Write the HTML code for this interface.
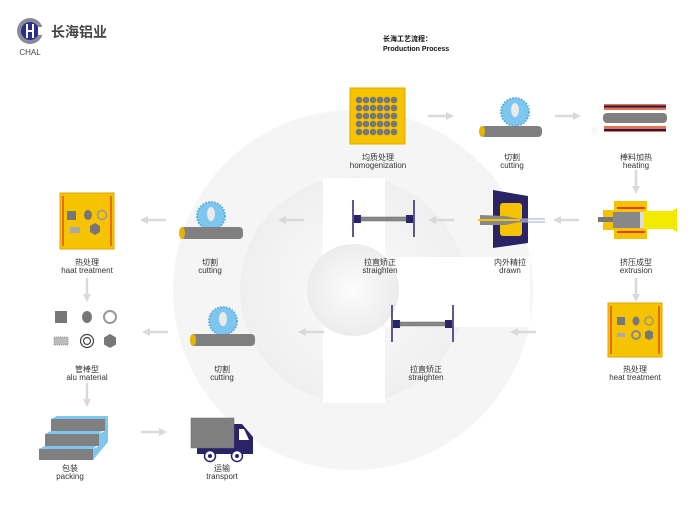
<!DOCTYPE html>
<html><head><meta charset="utf-8"><style>
html,body{margin:0;padding:0;background:#fff;width:700px;height:508px;overflow:hidden}
svg{display:block}
text{font-family:"Liberation Sans","Noto Sans CJK SC",sans-serif;fill:#333;font-size:8px;text-anchor:middle}
</style></head><body>
<svg width="700" height="508" viewBox="0 0 700 508" xmlns="http://www.w3.org/2000/svg">
<defs>
<radialGradient id="mg" cx="0.5" cy="0.5" r="0.5"><stop offset="0" stop-color="#fbfbfb"/><stop offset="1" stop-color="#efefef"/></radialGradient>
<radialGradient id="ig" cx="0.5" cy="0.5" r="0.5"><stop offset="0" stop-color="#fcfcfc"/><stop offset="1" stop-color="#ececec"/></radialGradient>
<g id="arrL"><line x1="0" y1="0" x2="20" y2="0" stroke="#d9d9d9" stroke-width="2.5"/><polygon points="-6,0 2,-4 2,4" fill="#d9d9d9"/></g>
<g id="arrR"><line x1="0" y1="0" x2="20" y2="0" stroke="#d9d9d9" stroke-width="2.5"/><polygon points="26,0 18,-4 18,4" fill="#d9d9d9"/></g>
<g id="arrD"><line x1="0" y1="0" x2="0" y2="18" stroke="#d9d9d9" stroke-width="2.5"/><polygon points="0,24 -4,16 4,16" fill="#d9d9d9"/></g>
<g id="saw">
<circle cx="0" cy="0" r="14" fill="#7cc6f0" stroke="#5aa9d8" stroke-width="2" stroke-dasharray="1.5 1.5"/>
<ellipse cx="0" cy="-2" rx="4" ry="7" fill="#eaeaea"/>
</g>
<g id="str">
<line x1="0" y1="0" x2="0" y2="37" stroke="#2a2366" stroke-width="1.5"/>
<line x1="61" y1="0" x2="61" y2="37" stroke="#2a2366" stroke-width="1.5"/>
<rect x="1" y="15" width="7" height="8" fill="#2a2366"/><rect x="53" y="15" width="7" height="8" fill="#2a2366"/>
<rect x="8" y="17" width="45" height="4" fill="#888" stroke="#666" stroke-width="0.5"/>
</g>
</defs>
<!-- watermark -->
<circle cx="353" cy="290" r="180" fill="#f5f5f5"/>
<rect x="470" y="257" width="60" height="70" fill="#fff"/>
<circle cx="353" cy="290" r="113" fill="url(#mg)"/>
<rect x="323" y="178" width="62" height="79" fill="#fff"/>
<rect x="323" y="327" width="62" height="76" fill="#fff"/>
<rect x="385" y="257" width="130" height="70" fill="#fff"/>
<circle cx="353" cy="290" r="46" fill="url(#ig)"/>
<!-- logo -->
<circle cx="30" cy="31" r="13" fill="#8a8a99"/>
<circle cx="30" cy="31" r="9" fill="#2a2f8a"/>
<rect x="26" y="24" width="2" height="14" fill="#fff"/><rect x="32" y="24" width="2" height="14" fill="#fff"/><rect x="26" y="30" width="8" height="2" fill="#fff"/>
<rect x="38" y="27" width="6" height="8" fill="#fff"/>
<text x="79" y="37" style="font-size:14px;font-weight:bold;fill:#444">长海铝业</text>
<text x="30" y="55" style="font-size:8px;fill:#444">CHAL</text>
<text x="383" y="41" style="font-size:7px;font-weight:bold;text-anchor:start;fill:#111">长海工艺流程：</text>
<text x="383" y="51" style="font-size:7px;font-weight:bold;text-anchor:start;fill:#111">Production Process</text>
<!-- homogenization -->
<rect x="350" y="88" width="55" height="56" fill="#f6c300" stroke="#d9a800"/>
<g fill="#777">
<circle cx="359" cy="100" r="3.3"/><circle cx="366" cy="100" r="3.3"/><circle cx="373" cy="100" r="3.3"/><circle cx="380" cy="100" r="3.3"/><circle cx="387" cy="100" r="3.3"/><circle cx="394" cy="100" r="3.3"/>
<circle cx="359" cy="108" r="3.3"/><circle cx="366" cy="108" r="3.3"/><circle cx="373" cy="108" r="3.3"/><circle cx="380" cy="108" r="3.3"/><circle cx="387" cy="108" r="3.3"/><circle cx="394" cy="108" r="3.3"/>
<circle cx="359" cy="116" r="3.3"/><circle cx="366" cy="116" r="3.3"/><circle cx="373" cy="116" r="3.3"/><circle cx="380" cy="116" r="3.3"/><circle cx="387" cy="116" r="3.3"/><circle cx="394" cy="116" r="3.3"/>
<circle cx="359" cy="124" r="3.3"/><circle cx="366" cy="124" r="3.3"/><circle cx="373" cy="124" r="3.3"/><circle cx="380" cy="124" r="3.3"/><circle cx="387" cy="124" r="3.3"/><circle cx="394" cy="124" r="3.3"/>
<circle cx="359" cy="132" r="3.3"/><circle cx="366" cy="132" r="3.3"/><circle cx="373" cy="132" r="3.3"/><circle cx="380" cy="132" r="3.3"/><circle cx="387" cy="132" r="3.3"/><circle cx="394" cy="132" r="3.3"/>
</g>
<text x="378" y="160">均质处理</text><text x="378" y="168">homogenization</text>
<use href="#arrR" x="428" y="116"/>
<!-- cutting 1 -->
<use href="#saw" x="515" y="112"/>
<rect x="481" y="126" width="61" height="11" rx="4" fill="#808080"/>
<ellipse cx="482" cy="131.5" rx="3" ry="5.5" fill="#e8b400"/>
<text x="512" y="160">切割</text><text x="512" y="168">cutting</text>
<use href="#arrR" x="555" y="116"/>
<!-- heating -->
<rect x="604" y="104" width="62" height="6" fill="#e8734a"/><rect x="604" y="105.5" width="62" height="2" fill="#1e1a55"/>
<rect x="604" y="126" width="62" height="6" fill="#e8734a"/><rect x="604" y="129" width="62" height="2" fill="#1e1a55"/>
<rect x="603" y="113" width="64" height="10" rx="4" fill="#808080"/>
<text x="636" y="160">棒料加热</text><text x="636" y="168">heating</text>
<use href="#arrD" x="636" y="170"/>
<!-- row 2 -->
<rect x="60" y="193" width="54" height="56" fill="#f6c300" stroke="#d9a800"/>
<line x1="63" y1="196" x2="63" y2="246" stroke="#d12"/><line x1="111" y1="196" x2="111" y2="246" stroke="#d12"/>
<rect x="67" y="211" width="9" height="9" fill="#777"/><ellipse cx="88" cy="215" rx="4" ry="5" fill="#777"/><circle cx="102" cy="215" r="4.5" fill="none" stroke="#999" stroke-width="1.5"/>
<rect x="70" y="227" width="10" height="6" fill="#aaa"/><polygon points="95,223 100,226 100,232 95,235 90,232 90,226" fill="#777"/>
<text x="87" y="265">热处理</text><text x="87" y="273">haat treatment</text>
<use href="#arrL" x="146" y="220"/>
<use href="#saw" x="211" y="216"/>
<rect x="180" y="227" width="63" height="12" rx="4" fill="#808080"/>
<ellipse cx="182" cy="233" rx="3" ry="6" fill="#e8b400"/>
<text x="210" y="265">切割</text><text x="210" y="273">cutting</text>
<use href="#arrL" x="284" y="220"/>
<use href="#str" x="353" y="200"/>
<text x="380" y="265">拉直矫正</text><text x="380" y="273">straighten</text>
<use href="#arrL" x="434" y="220"/>
<!-- drawn -->
<polygon points="493,190 528,196 528,243 493,248" fill="#2a2366"/>
<rect x="500" y="203" width="22" height="33" rx="3" fill="#f6c300"/>
<polygon points="480,215 505,216 520,219 528,219 528,222 520,222 505,225 480,225" fill="#888"/>
<line x1="478" y1="220" x2="520" y2="220" stroke="#f6c300" stroke-width="2"/>
<line x1="520" y1="219" x2="545" y2="219" stroke="#9ad" stroke-width="1"/><line x1="520" y1="222" x2="545" y2="222" stroke="#9ad" stroke-width="1"/>
<text x="510" y="265">内外精拉</text><text x="510" y="273">drawn</text>
<use href="#arrL" x="559" y="220"/>
<!-- extrusion -->
<rect x="614" y="201" width="33" height="38" fill="#f6c300"/>
<rect x="603" y="210" width="12" height="20" fill="#f6c300"/>
<line x1="617" y1="208" x2="645" y2="208" stroke="#d12" stroke-width="1.5"/><line x1="617" y1="232" x2="645" y2="232" stroke="#d12" stroke-width="1.5"/>
<rect x="598" y="217" width="18" height="5" fill="#777"/>
<rect x="613" y="212" width="28" height="16" fill="#888"/>
<rect x="640" y="212" width="4" height="16" fill="#ddd"/>
<polygon points="644,211 672,211 677,208 677,232 672,229 644,229" fill="#f2ea00"/>
<text x="636" y="265">挤压成型</text><text x="636" y="273">extrusion</text>
<use href="#arrD" x="636" y="278"/>
<use href="#arrD" x="87" y="278"/>
<!-- row 3 -->
<rect x="608" y="303" width="54" height="54" fill="#f6c300" stroke="#d9a800"/>
<line x1="611" y1="306" x2="611" y2="354" stroke="#d12"/><line x1="659" y1="306" x2="659" y2="354" stroke="#d12"/>
<rect x="617" y="317" width="8" height="8" fill="#777"/><ellipse cx="636" cy="321" rx="3.5" ry="4.5" fill="#777"/><circle cx="649" cy="321" r="4" fill="none" stroke="#b8a050" stroke-width="2"/>
<rect x="617" y="333" width="8" height="4" fill="#aaa"/><circle cx="636" cy="335" r="4" fill="none" stroke="#888" stroke-width="2"/><polygon points="649,330 653,332 653,338 649,340 645,338 645,332" fill="#777"/>
<text x="635" y="372">热处理</text><text x="635" y="380">heat treatment</text>
<use href="#arrL" x="516" y="332"/>
<use href="#str" x="392" y="305"/>
<text x="426" y="372">拉直矫正</text><text x="426" y="380">straighten</text>
<use href="#arrL" x="304" y="332"/>
<use href="#saw" x="223" y="321"/>
<rect x="191" y="334" width="64" height="12" rx="4" fill="#808080"/>
<ellipse cx="193" cy="340" rx="3" ry="6" fill="#e8b400"/>
<text x="222" y="372">切割</text><text x="222" y="380">cutting</text>
<use href="#arrL" x="148" y="332"/>
<!-- alu material -->
<rect x="55" y="311" width="12" height="12" fill="#777"/>
<ellipse cx="87" cy="317" rx="5" ry="6" fill="#777"/>
<circle cx="110" cy="317" r="6" fill="none" stroke="#999" stroke-width="2"/>
<rect x="54" y="337" width="14" height="8" fill="#bbb" stroke="#999" stroke-dasharray="1 1"/>
<circle cx="87" cy="341" r="6.5" fill="none" stroke="#444" stroke-width="1.2"/><circle cx="87" cy="341" r="3.5" fill="none" stroke="#444" stroke-width="1.2"/>
<polygon points="110,334 116,337.5 116,344.5 110,348 104,344.5 104,337.5" fill="#777"/>
<text x="87" y="372">管棒型</text><text x="87" y="380">alu material</text>
<use href="#arrD" x="87" y="383"/>
<!-- packing -->
<polygon points="51,419 105,419 108,416 57,416" fill="#7cc6f0"/>
<rect x="51" y="419" width="54" height="12" fill="#808080"/>
<rect x="45" y="434" width="54" height="12" fill="#808080"/>
<rect x="39" y="449" width="54" height="11" fill="#808080"/>
<polygon points="105,419 108,416 108,442 93,460 93,449 99,446 99,434 105,431" fill="#7cc6f0"/>
<polygon points="45,434 99,434 102,431 51,431" fill="#7cc6f0"/>
<polygon points="39,449 93,449 96,446 45,446" fill="#7cc6f0"/>
<text x="70" y="471">包装</text><text x="70" y="479">packing</text>
<use href="#arrR" x="141" y="432"/>
<!-- truck -->
<path d="M234,424 L242,424 L253,437 L253,454 L197,454 L197,448 L234,448 Z" fill="#2a2366"/>
<polygon points="239,429 244,429 249,440 239,440" fill="#fff"/>
<rect x="191" y="418" width="43" height="30" fill="#808080" stroke="#666" stroke-width="0.5"/>
<circle cx="210" cy="456" r="5.5" fill="#fff" stroke="#2a2366" stroke-width="1.5"/><circle cx="210" cy="456" r="2" fill="#2a2366"/>
<circle cx="237" cy="456" r="5.5" fill="#fff" stroke="#2a2366" stroke-width="1.5"/><circle cx="237" cy="456" r="2" fill="#2a2366"/>
<text x="222" y="471">运输</text><text x="222" y="479">transport</text>
</svg>
</body></html>
